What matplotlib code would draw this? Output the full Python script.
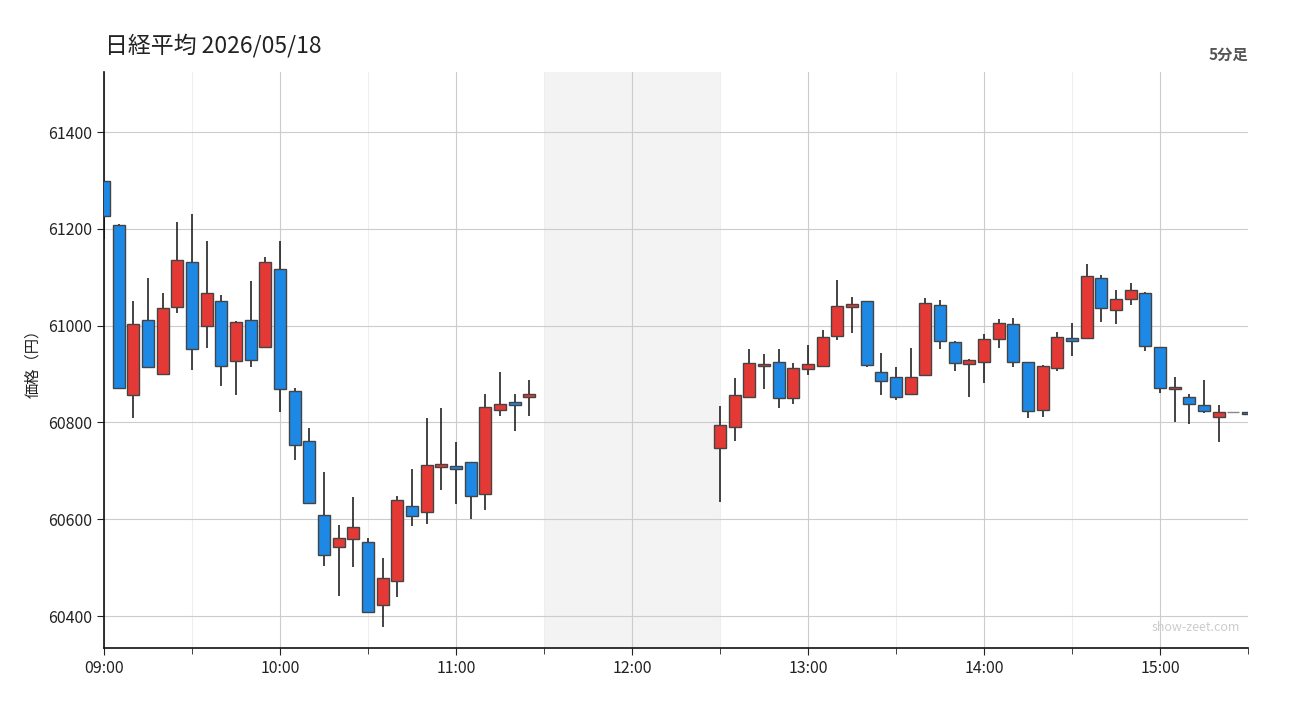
import matplotlib
matplotlib.use("Agg")
import matplotlib.pyplot as plt
from matplotlib.patches import Rectangle
from matplotlib.ticker import MultipleLocator, FixedLocator

plt.rcParams['font.family'] = ['Noto Sans CJK JP', 'DejaVu Sans']

# 5-minute candles (morning 09:00-11:25, afternoon 12:30-15:30)
times = ["09:00", "09:05", "09:10", "09:15", "09:20", "09:25", "09:30", "09:35", "09:40", "09:45",
         "09:50", "09:55", "10:00", "10:05", "10:10", "10:15", "10:20", "10:25", "10:30", "10:35",
         "10:40", "10:45", "10:50", "10:55", "11:00", "11:05", "11:10", "11:15", "11:20", "11:25",
         "12:30", "12:35", "12:40", "12:45", "12:50", "12:55", "13:00", "13:05", "13:10", "13:15",
         "13:20", "13:25", "13:30", "13:35", "13:40", "13:45", "13:50", "13:55", "14:00", "14:05",
         "14:10", "14:15", "14:20", "14:25", "14:30", "14:35", "14:40", "14:45", "14:50", "14:55",
         "15:00", "15:05", "15:10", "15:15", "15:20", "15:25", "15:30"]
opens = [61298, 61208, 60856, 61012, 60901, 61039, 61132, 61000, 61050, 60926,
         61012, 60955, 61117, 60864, 60761, 60608, 60542, 60559, 60553, 60423,
         60472, 60628, 60615, 60707, 60709, 60718, 60652, 60825, 60843, 60852,
         60747, 60790, 60852, 60916, 60924, 60850, 60911, 60916, 60979, 61039,
         61050, 60905, 60893, 60858, 60899, 61043, 60967, 60920, 60924, 60973,
         61004, 60924, 60825, 60913, 60975, 60975, 61099, 61033, 61054, 61068,
         60955, 60870, 60852, 60837, 60812, 60821, 60821]
highs = [61300, 61210, 61050, 61098, 61067, 61214, 61230, 61175, 61063, 61009,
         61092, 61142, 61174, 60871, 60788, 60698, 60588, 60646, 60561, 60519,
         60649, 60704, 60809, 60830, 60759, 60719, 60858, 60904, 60859, 60887,
         60834, 60891, 60951, 60941, 60951, 60922, 60959, 60992, 61095, 61060,
         61051, 60943, 60915, 60954, 61058, 61052, 60968, 60931, 60982, 61014,
         61016, 60925, 60919, 60986, 61005, 61128, 61104, 61073, 61088, 61070,
         60956, 60894, 60859, 60887, 60835, 60821, 60821]
lows = [61178, 60870, 60810, 60912, 60900, 61026, 60909, 60954, 60876, 60857,
        60915, 60953, 60822, 60722, 60632, 60503, 60441, 60501, 60406, 60377,
        60439, 60587, 60591, 60661, 60632, 60601, 60620, 60814, 60783, 60814,
        60635, 60762, 60850, 60869, 60830, 60838, 60898, 60915, 60970, 60985,
        60915, 60856, 60847, 60858, 60898, 60952, 60906, 60853, 60882, 60953,
        60915, 60809, 60811, 60906, 60937, 60973, 61008, 61003, 61043, 60948,
        60861, 60801, 60797, 60820, 60760, 60821, 60817]
closes = [61227, 60872, 61004, 60914, 61037, 61136, 60951, 61068, 60916, 61008,
          60928, 61132, 60870, 60753, 60633, 60526, 60561, 60584, 60408, 60479,
          60639, 60606, 60713, 60715, 60703, 60647, 60831, 60838, 60837, 60858,
          60794, 60856, 60922, 60920, 60850, 60913, 60920, 60977, 61041, 61045,
          60918, 60885, 60852, 60893, 61047, 60969, 60922, 60928, 60973, 61006,
          60924, 60823, 60916, 60977, 60969, 61103, 61037, 61056, 61074, 60957,
          60872, 60874, 60839, 60823, 60821, 60821, 60817]

x_labels = ["09:00", "10:00", "11:00", "12:00", "13:00", "14:00", "15:00"]
title = "日経平均 2026/05/18"

UP = "#e53935"
DOWN = "#1e88e5"


def to_min(t):
    h, m = t.split(":")
    return (int(h) - 9) * 60 + int(m)


fig = plt.figure(figsize=(13, 7.2), dpi=100)
ax = fig.add_axes([0.08, 0.1, 0.88, 0.8])

# lunch break
ax.axvspan(to_min("11:30"), to_min("12:30"), color="#f3f3f3", zorder=0, lw=0)

w = 4.1
for t, o, h, l, c in zip(times, opens, highs, lows, closes):
    x = to_min(t)
    if c > o:
        col = UP
    elif c < o:
        col = DOWN
    else:
        col = "#888888"
    if h > l:
        ax.vlines(x, l, h, color="#111111", lw=1.1, zorder=2)
    ax.add_patch(Rectangle((x - w / 2, min(o, c)), w, abs(c - o), facecolor=col,
                           edgecolor="#444444" if c != o else "#888888", lw=1.0, zorder=3))

ax.set_xlim(0, 390)
ax.set_ylim(60334, 61524)

ax.xaxis.set_major_locator(FixedLocator([to_min(s) for s in x_labels]))
ax.set_xticklabels(x_labels)
ax.xaxis.set_minor_locator(FixedLocator([to_min(s) + 30 for s in x_labels]))
ax.yaxis.set_major_locator(MultipleLocator(200))

ax.grid(which="major", color="#cccccc", lw=0.8)
ax.grid(which="minor", axis="x", color="#eeeeee", lw=0.8)
ax.set_axisbelow(True)

for s in ["top", "right"]:
    ax.spines[s].set_visible(False)
for s in ["left", "bottom"]:
    ax.spines[s].set_color("#111111")
    ax.spines[s].set_linewidth(1.2)

ax.tick_params(axis="both", which="major", labelsize=11.5, colors="#222222", length=5)
ax.tick_params(axis="x", which="minor", length=4, color="#222222")

ax.set_ylabel("価格（円）", fontsize=11, color="#222222", labelpad=5)

fig.text(0.081, 0.937, title, fontsize=16.5, color="#222222", ha="left", va="center")
fig.text(0.96, 0.924, "5分足", fontsize=11, color="#555555", fontweight="bold", ha="right", va="center")
ax.text(0.993, 0.035, "show-zeet.com", transform=ax.transAxes, fontsize=9, color="#cccccc",
        ha="right", va="center", zorder=5)

fig.savefig("out.png", dpi=100)
